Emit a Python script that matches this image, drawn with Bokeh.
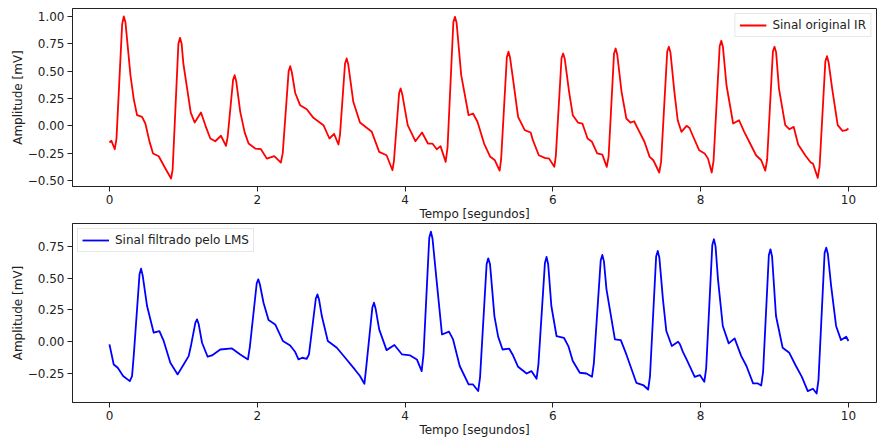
from bokeh.plotting import figure
from bokeh.layouts import column
from bokeh.models import FixedTicker, Legend, LegendItem
from bokeh.embed import file_html
from bokeh.resources import INLINE

# Sinal original IR (tempo [s], amplitude [mV])
ir_samples = [
    (0.000, -0.153), (0.027, -0.137), (0.072, -0.214), (0.095, -0.12), (0.172, 0.93), (0.194, 1.00),
    (0.216, 0.95), (0.24, 0.78), (0.284, 0.463), (0.33, 0.24), (0.374, 0.097), (0.441, 0.082),
    (0.486, 0.021), (0.54, -0.14), (0.59, -0.253), (0.667, -0.278), (0.757, -0.39), (0.834, -0.482),
    (0.855, -0.40), (0.933, 0.75), (0.955, 0.805), (0.977, 0.75), (1.00, 0.57), (1.058, 0.311),
    (1.10, 0.12), (1.153, 0.03), (1.239, 0.122), (1.30, 0.00), (1.365, -0.116), (1.432, -0.141),
    (1.509, -0.091), (1.577, -0.183),
    (1.60, -0.10), (1.673, 0.42), (1.694, 0.463), (1.715, 0.41), (1.77, 0.128), (1.83, -0.06),
    (1.883, -0.162), (1.973, -0.208), (2.05, -0.214), (2.13, -0.30), (2.23, -0.278), (2.32, -0.336),
    (2.345, -0.25), (2.425, 0.50), (2.446, 0.545), (2.468, 0.49), (2.514, 0.30), (2.58, 0.189),
    (2.67, 0.152), (2.76, 0.073), (2.896, 0.006), (2.977, -0.116), (3.04, -0.073), (3.099, -0.171),
    (3.12, -0.08), (3.188, 0.57), (3.21, 0.616), (3.232, 0.56), (3.30, 0.22), (3.39, 0.03),
    (3.55, -0.055), (3.65, -0.238), (3.75, -0.269), (3.83, -0.406),
    (3.85, -0.32), (3.92, 0.30), (3.94, 0.341), (3.962, 0.29), (4.036, 0.006), (4.14, -0.141),
    (4.23, -0.061), (4.31, -0.162), (4.37, -0.162), (4.43, -0.214), (4.48, -0.186), (4.55, -0.33),
    (4.575, -0.20), (4.654, 0.95), (4.676, 0.997), (4.698, 0.94), (4.76, 0.463), (4.86, 0.097),
    (4.92, 0.113), (4.98, 0.037), (5.07, -0.162), (5.15, -0.28), (5.216, -0.315), (5.28, -0.41),
    (5.30, -0.31), (5.378, 0.63), (5.40, 0.677), (5.422, 0.62), (5.46, 0.433), (5.53, 0.082),
    (5.62, -0.04), (5.70, -0.061), (5.73, -0.131), (5.81, -0.269), (5.89, -0.293), (5.95, -0.30),
    (6.02, -0.375),
    (6.04, -0.28), (6.118, 0.62), (6.14, 0.661), (6.162, 0.61), (6.22, 0.311), (6.27, 0.097),
    (6.34, 0.03), (6.40, 0.021), (6.47, -0.116), (6.53, -0.146), (6.60, -0.253), (6.67, -0.263),
    (6.73, -0.375),
    (6.755, -0.28), (6.828, 0.66), (6.85, 0.707), (6.872, 0.65), (6.93, 0.311), (6.995, 0.067),
    (7.05, 0.03), (7.10, 0.042), (7.16, -0.04), (7.24, -0.146), (7.31, -0.284), (7.36, -0.315),
    (7.44, -0.427),
    (7.465, -0.33), (7.548, 0.68), (7.57, 0.723), (7.592, 0.67), (7.645, 0.311), (7.69, 0.051),
    (7.74, -0.055), (7.81, 0.0), (7.85, -0.02), (7.90, -0.10), (7.98, -0.223), (8.055, -0.253),
    (8.10, -0.30), (8.15, -0.427),
    (8.175, -0.32), (8.258, 0.73), (8.28, 0.778), (8.302, 0.72), (8.35, 0.371), (8.44, 0.021),
    (8.52, 0.051), (8.59, -0.055), (8.67, -0.162), (8.75, -0.269), (8.82, -0.315), (8.875, -0.41),
    (8.90, -0.31), (8.978, 0.68), (9.00, 0.723), (9.022, 0.67), (9.06, 0.341), (9.145, 0.006),
    (9.20, -0.031), (9.26, -0.01), (9.32, -0.171), (9.415, -0.269), (9.49, -0.336), (9.52, -0.345),
    (9.585, -0.476),
    (9.61, -0.37), (9.688, 0.59), (9.71, 0.637), (9.732, 0.58), (9.78, 0.341), (9.855, 0.006),
    (9.92, -0.046), (9.97, -0.04), (10.0, -0.025),
]

# Sinal filtrado pelo LMS (tempo [s], amplitude [mV])
lms_samples = [
    (0.000, -0.021), (0.058, -0.179), (0.112, -0.205), (0.185, -0.27), (0.275, -0.31), (0.306, -0.27),
    (0.33, -0.10), (0.407, 0.53), (0.428, 0.575), (0.45, 0.52), (0.509, 0.281), (0.599, 0.071),
    (0.676, 0.084), (0.734, 0.006), (0.824, -0.165), (0.923, -0.257), (1.004, -0.179), (1.072, -0.113),
    (1.10, -0.04), (1.163, 0.15), (1.185, 0.176), (1.207, 0.14), (1.253, -0.008), (1.329, -0.118),
    (1.387, -0.108), (1.50, -0.061), (1.658, -0.053), (1.77, -0.10), (1.874, -0.139),
    (1.90, -0.04), (1.993, 0.46), (2.014, 0.491), (2.036, 0.45), (2.085, 0.307), (2.153, 0.171),
    (2.243, 0.136), (2.347, 0.006), (2.446, -0.03), (2.514, -0.081), (2.558, -0.139), (2.61, -0.126),
    (2.67, -0.134), (2.70, -0.10),
    (2.793, 0.34), (2.815, 0.372), (2.837, 0.33), (2.874, 0.202), (2.955, 0.006), (3.077, -0.047),
    (3.19, -0.126), (3.32, -0.218), (3.39, -0.27), (3.45, -0.331),
    (3.475, -0.20), (3.558, 0.27), (3.58, 0.307), (3.602, 0.26), (3.65, 0.097), (3.75, -0.066),
    (3.856, -0.026), (3.96, -0.10), (4.07, -0.108), (4.16, -0.139), (4.225, -0.231),
    (4.25, -0.10), (4.328, 0.82), (4.35, 0.866), (4.372, 0.81), (4.43, 0.465), (4.50, 0.057),
    (4.595, 0.079), (4.65, 0.018), (4.74, -0.191), (4.86, -0.336), (4.92, -0.336), (4.99, -0.388),
    (5.015, -0.28), (5.104, 0.61), (5.126, 0.656), (5.15, 0.61), (5.21, 0.20), (5.26, 0.04),
    (5.32, -0.061), (5.41, -0.055), (5.455, -0.10), (5.53, -0.197), (5.645, -0.25), (5.71, -0.231),
    (5.78, -0.291),
    (5.805, -0.18), (5.893, 0.62), (5.915, 0.667), (5.937, 0.61), (5.98, 0.281), (6.05, 0.045),
    (6.15, 0.031), (6.21, -0.034), (6.27, -0.152), (6.365, -0.244), (6.455, -0.25), (6.53, -0.276),
    (6.555, -0.17), (6.648, 0.64), (6.67, 0.683), (6.692, 0.63), (6.726, 0.412), (6.84, 0.018),
    (6.92, 0.013), (6.995, -0.10), (7.13, -0.323), (7.23, -0.344), (7.29, -0.376),
    (7.315, -0.27), (7.398, 0.67), (7.42, 0.714), (7.442, 0.66), (7.49, 0.333), (7.536, 0.084),
    (7.61, -0.034), (7.695, 0.0), (7.72, -0.02), (7.76, -0.08), (7.81, -0.139), (7.92, -0.276),
    (7.99, -0.262), (8.05, -0.315),
    (8.075, -0.21), (8.158, 0.76), (8.18, 0.806), (8.202, 0.75), (8.235, 0.491), (8.30, 0.124),
    (8.38, -0.013), (8.46, 0.026), (8.55, -0.113), (8.62, -0.191), (8.71, -0.328), (8.775, -0.328),
    (8.82, -0.344),
    (8.845, -0.24), (8.923, 0.68), (8.945, 0.727), (8.967, 0.67), (9.02, 0.202), (9.11, -0.047),
    (9.20, -0.087), (9.29, -0.191), (9.37, -0.276), (9.45, -0.388), (9.52, -0.37), (9.57, -0.407),
    (9.595, -0.30), (9.678, 0.70), (9.70, 0.74), (9.722, 0.69), (9.766, 0.439), (9.833, 0.124),
    (9.90, 0.013), (9.97, 0.039), (10.0, 0.006),
]

x_ticks = [0, 2, 4, 6, 8, 10]
ir_y_ticks = [-0.50, -0.25, 0.00, 0.25, 0.50, 0.75, 1.00]
lms_y_ticks = [-0.25, 0.00, 0.25, 0.50, 0.75]

FONT = "DejaVu Sans"
FS = "12px"


def fmt(v):
    s = "%.2f" % abs(v)
    return ("\u2212" + s) if v < 0 else s


def make_fig(samples, color, label, y_range, y_ticks, legend_loc, top_border, frame_h):
    p = figure(frame_width=804, frame_height=frame_h, x_range=(-0.5, 10.38), y_range=y_range,
               output_backend="svg", toolbar_location=None,
               min_border_left=72, min_border_right=1, min_border_top=top_border,
               min_border_bottom=0, background_fill_color="white")
    ts = [s[0] for s in samples]
    vs = [s[1] for s in samples]
    r = p.line(ts, vs, line_color=color, line_width=1.8, line_join="round")
    p.grid.visible = False
    p.outline_line_color = "#222222"
    p.outline_line_width = 1
    for ax in (p.xaxis[0], p.yaxis[0]):
        ax.axis_line_color = "#222222"
        ax.major_tick_line_color = "#222222"
        ax.major_tick_out = 5
        ax.major_tick_in = 0
        ax.minor_tick_out = 0
        ax.minor_tick_in = 0
        ax.major_label_text_font = FONT
        ax.major_label_text_font_size = FS
        ax.major_label_text_color = "#222222"
        ax.axis_label_text_font = FONT
        ax.axis_label_text_font_size = FS
        ax.axis_label_text_font_style = "normal"
        ax.axis_label_text_color = "#222222"
    p.xaxis.ticker = FixedTicker(ticks=x_ticks)
    p.xaxis.major_label_overrides = {t: str(t) for t in x_ticks}
    p.xaxis.axis_label = "Tempo [segundos]"
    p.xaxis.major_label_standoff = 3
    p.xaxis.axis_label_standoff = 0
    p.yaxis.ticker = FixedTicker(ticks=y_ticks)
    p.yaxis.major_label_overrides = {t: fmt(t) for t in y_ticks}
    p.yaxis.axis_label = "Amplitude [mV]"
    p.yaxis.major_label_standoff = 3
    p.yaxis.axis_label_standoff = 0

    leg = Legend(items=[LegendItem(label=label, renderers=[r])], location=legend_loc)
    leg.label_text_font = FONT
    leg.label_text_font_size = FS
    leg.label_text_color = "#222222"
    leg.glyph_width = 27
    leg.glyph_height = 14
    leg.label_height = 14
    leg.label_standoff = 6
    leg.padding = 4
    leg.margin = 5
    leg.spacing = 0
    leg.border_line_color = "#d0d0d0"
    leg.border_line_width = 1
    leg.background_fill_alpha = 0.9
    p.add_layout(leg, "center")
    return p


p1 = make_fig(ir_samples, "#ff0000", "Sinal original IR", (-0.555, 1.073), ir_y_ticks,
              "top_right", 8, 178)
p2 = make_fig(lms_samples, "#0000ff", "Sinal filtrado pelo LMS", (-0.478, 0.93), lms_y_ticks,
              "top_left", 0, 179)

layout = column(p1, p2, spacing=0)
open("out.html", "w").write(file_html(layout, INLINE))
